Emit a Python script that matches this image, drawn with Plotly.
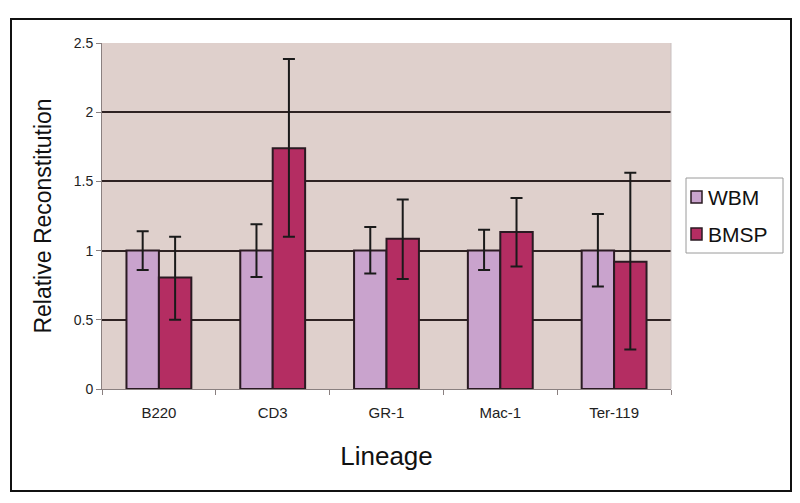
import plotly.graph_objects as go

categories = ["B220", "CD3", "GR-1", "Mac-1", "Ter-119"]
series_names = ["WBM", "BMSP"]
wbm = [1.0, 1.0, 1.0, 1.0, 1.0]
wbm_hi = [1.14, 1.19, 1.17, 1.15, 1.265]
wbm_lo = [0.86, 0.81, 0.835, 0.86, 0.74]
bmsp = [0.805, 1.74, 1.085, 1.135, 0.92]
bmsp_hi = [1.10, 2.385, 1.37, 1.38, 1.563]
bmsp_lo = [0.50, 1.10, 0.795, 0.885, 0.285]

colors = ["#C9A3CD", "#B42D62"]
font_main = "Liberation Sans, Arial, sans-serif"

# plot area in pixels
L, R, T, B = 102, 671, 43, 389
W, H = R - L, B - T


def px_x(p):
    return (p - L) / W


def px_y(p):
    return (B - p) / H


def err(vals, hi, lo):
    return dict(type="data", symmetric=False,
                array=[h - v for h, v in zip(hi, vals)],
                arrayminus=[v - l for v, l in zip(vals, lo)],
                color="#1a1a1a", thickness=2, width=6)


fig = go.Figure()
fig.add_trace(go.Bar(name=series_names[0], x=categories, y=wbm,
                     marker=dict(color=colors[0], line=dict(color="#2a1a22", width=2)),
                     error_y=err(wbm, wbm_hi, wbm_lo)))
fig.add_trace(go.Bar(name=series_names[1], x=categories, y=bmsp,
                     marker=dict(color=colors[1], line=dict(color="#2a1a22", width=2)),
                     error_y=err(bmsp, bmsp_hi, bmsp_lo)))

shapes = [
    dict(type="line", xref="paper", yref="paper", x0=1, x1=1, y0=0, y1=1,
         line=dict(color="#c8c0c0", width=1)),
    # outer frame
    dict(type="rect", xref="paper", yref="paper",
         x0=px_x(11), x1=px_x(791), y0=px_y(491), y1=px_y(19),
         line=dict(color="#111", width=2), layer="below"),
    # legend box
    dict(type="rect", xref="paper", yref="paper",
         x0=px_x(686), x1=px_x(783), y0=px_y(253), y1=px_y(178),
         line=dict(color="#9a9a9a", width=1), fillcolor="white", layer="below"),
]
annotations = []
legend_rows = [197, 234]
for name, col, cy in zip(series_names, colors, legend_rows):
    shapes.append(dict(type="rect", xref="paper", yref="paper",
                       x0=px_x(691), x1=px_x(702), y0=px_y(cy + 6), y1=px_y(cy - 6),
                       fillcolor=col, line=dict(color="#2a1a22", width=1.5)))
    annotations.append(dict(xref="paper", yref="paper", x=px_x(706), y=px_y(cy),
                            xanchor="left", yanchor="middle", showarrow=False,
                            text=name, font=dict(family=font_main, size=21, color="#111")))

fig.update_layout(
    width=800, height=503,
    margin=dict(l=L, r=800 - R, t=T, b=503 - B, autoexpand=False),
    paper_bgcolor="white",
    plot_bgcolor="#DFD0CC",
    barmode="group",
    bargap=0.43,
    bargroupgap=0,
    showlegend=False,
    xaxis=dict(
        title=dict(text="Lineage", font=dict(family=font_main, size=26, color="#111"), standoff=26),
        tickfont=dict(family=font_main, size=15, color="#222"),
        ticklabelstandoff=10,
        showline=True, linecolor="#8a8080", linewidth=1,
        ticks="outside", tickson="boundaries", ticklen=5, tickcolor="#8a8080",
        showgrid=False,
    ),
    yaxis=dict(
        title=dict(text="Relative Reconstitution", font=dict(family=font_main, size=23, color="#111"), standoff=15),
        tickfont=dict(family=font_main, size=14, color="#222"),
        range=[0, 2.5], tickvals=[0, 0.5, 1, 1.5, 2, 2.5],
        ticktext=["0", "0.5", "1", "1.5", "2", "2.5"],
        showline=True, linecolor="#8a8080", linewidth=1,
        ticks="outside", ticklen=5, tickcolor="#8a8080",
        showgrid=True, gridcolor="#2e2222", gridwidth=2,
        zeroline=False,
    ),
    shapes=shapes,
    annotations=annotations,
)

fig.write_html("out.html", config={"displayModeBar": False},
               post_script="document.body.style.margin='0';document.body.style.padding='0';")
